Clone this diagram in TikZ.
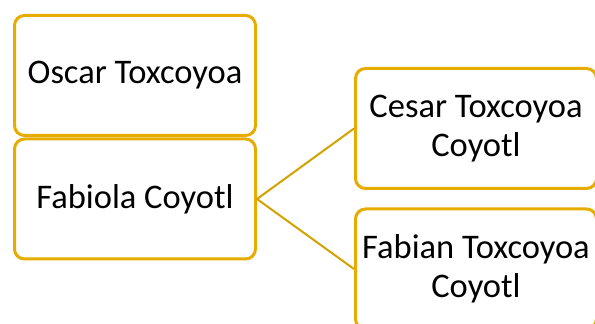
\documentclass[tikz,border=0pt]{standalone}
\usepackage{fontspec}
\setmainfont{Carlito}
\usetikzlibrary{positioning}
\definecolor{gold}{RGB}{230,172,0}
\definecolor{goldline}{RGB}{212,162,0}

\begin{document}
\begin{tikzpicture}[x=1pt,y=1pt,
	person/.style={draw=gold,line width=3pt,rounded corners=10pt,fill=white,
		minimum width=241pt,minimum height=120pt,inner sep=0pt,align=center,
		font=\fontsize{34.5}{39}\selectfont},
	link/.style={draw=goldline,line width=2pt}]
\useasboundingbox (0,0) rectangle (595,324);
\clip (0,0) rectangle (595,324);

\node[person] (oscar) at (135,248.5) {Oscar Toxcoyoa};
\node[person] (fabiola) at (135,125) {Fabiola Coyotl};
\node[person] (cesar) at (476,195.5) {Cesar Toxcoyoa\\Coyotl};
\node[person] (fabian) at (476,55) {Fabian Toxcoyoa\\Coyotl};

\draw[link] (fabiola.east) -- (cesar.west);
\draw[link] (fabiola.east) -- (fabian.west);

\end{tikzpicture}
\end{document}
